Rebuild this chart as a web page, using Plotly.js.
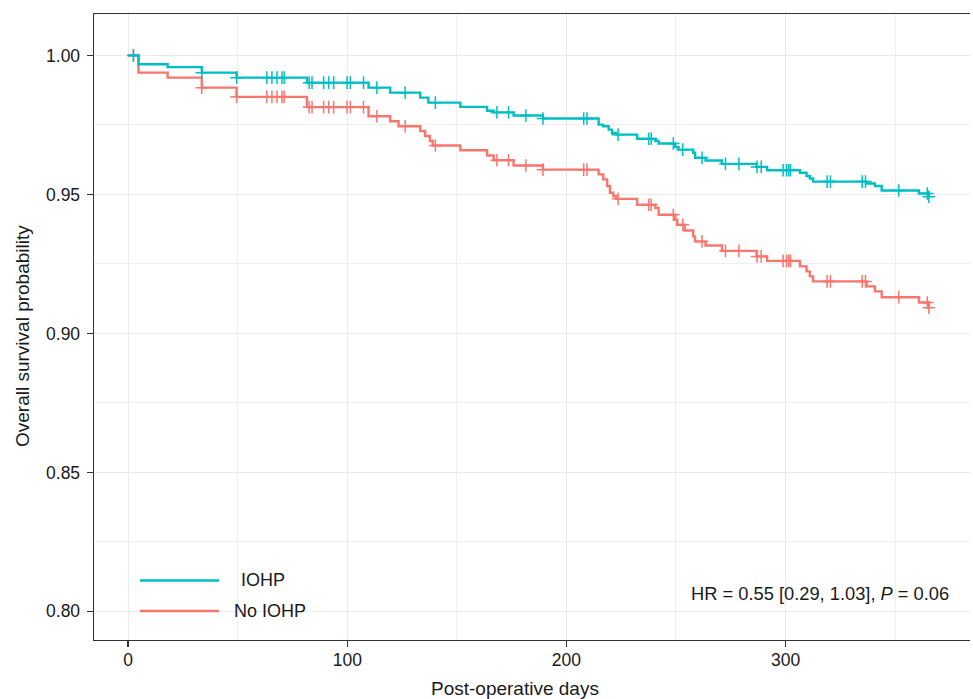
<!DOCTYPE html>
<html>
<head>
<meta charset="utf-8">
<script src="https://cdn.plot.ly/plotly-3.0.1.min.js"></script>
<style>html,body{margin:0;padding:0;background:#fff;}#chart{width:973px;height:699px;}</style>
</head>
<body>
<div id="chart"></div>
<script>
// ---- data ----
const groupNames = ["IOHP", "No IOHP"];
const groupColors = ["#00BFC4", "#F8766D"];

const iohpTime = [0, 4.7, 18, 33.6, 49.5, 81.6, 109.7, 119.6, 133.3, 137, 151.6, 163.8, 166.8, 175.9, 189.3,
  214.7, 216.8, 219.3, 220.8, 222.8, 232.3, 240.6, 242.1, 249.7, 251.2, 257.9, 258.7, 263.5, 271,
  286.8, 291.6, 306.6, 309.6, 311.1, 312.6, 337, 340.8, 343.9, 360.9, 365.4, 366];
const iohpSurv = [1.0, 0.9968, 0.9958, 0.9938, 0.992, 0.9902, 0.9884, 0.9866, 0.9848, 0.983, 0.9815, 0.9801, 0.9795, 0.9784, 0.9773,
  0.9751, 0.9745, 0.9733, 0.9721, 0.9715, 0.970, 0.9692, 0.9683, 0.967, 0.9661, 0.965, 0.9632, 0.9622, 0.961,
  0.9599, 0.9587, 0.9578, 0.9566, 0.9557, 0.9546, 0.9539, 0.953, 0.9514, 0.9503, 0.9492, 0.9492];

const noIohpTime = [0, 4.7, 18, 33.6, 49.5, 81.6, 109.7, 119.6, 123.4, 133.3, 135.5, 137.7, 139, 151.6, 163.8, 166.8, 175.9, 189.3,
  214.7, 216.8, 218.6, 219.9, 221.4, 222.8, 232.3, 240.6, 242.1, 249.7, 250.6, 254, 257.9, 258.7, 263.5, 271,
  286.8, 291.6, 306.6, 309.6, 311.1, 312.6, 337, 340.8, 343.9, 360.9, 365.4, 366];
const noIohpSurv = [1.0, 0.9938, 0.992, 0.9884, 0.9851, 0.9814, 0.9781, 0.9763, 0.9745, 0.9728, 0.971, 0.9692, 0.9676, 0.9659, 0.964, 0.9623, 0.9604, 0.9589,
  0.9572, 0.9554, 0.953, 0.9506, 0.9494, 0.9484, 0.9463, 0.9451, 0.9427, 0.9409, 0.9391, 0.937, 0.9349, 0.9331, 0.9316, 0.9297,
  0.9277, 0.9261, 0.9241, 0.9223, 0.9205, 0.9187, 0.9169, 0.9151, 0.913, 0.9111, 0.9092, 0.9092];

// censoring times (same pattern seen on both curves)
const censorTimes = [2.4, 33.6, 49.5, 63.3, 65.6, 67.9, 70.2, 71.2, 82.6, 83.9, 89.2, 91.5, 93.8, 99.9, 101.4, 107.4,
  113.5, 126.4, 140.2, 168.3, 173.6, 181.5, 189.3, 207.9, 209.4, 223.6, 237.6, 238.7, 248.8, 253.1, 261.9,
  272.6, 278.7, 287, 288.9, 298.9, 300.5, 301.5, 302.3, 319, 320.5, 335, 336.5, 351.7, 364.7, 365.4];

const xTicks = [0, 100, 200, 300];
const yTicks = [0.80, 0.85, 0.90, 0.95, 1.00];
const annotationText = "HR = 0.55 [0.29, 1.03], <i>P</i> = 0.06";
const xTitle = "Post-operative days";
const yTitle = "Overall survival probability";

// ---- helpers ----
function stepValue(times, surv, t) {
  let v = surv[0];
  for (let i = 0; i < times.length; i++) { if (times[i] <= t + 1e-9) v = surv[i]; }
  return v;
}

const FONT = "Liberation Sans, Arial, Helvetica, sans-serif";
const series = [
  {name: groupNames[1], t: noIohpTime, s: noIohpSurv, c: groupColors[1]},
  {name: groupNames[0], t: iohpTime, s: iohpSurv, c: groupColors[0]}
];

const traces = [];
series.forEach(g => {
  traces.push({
    type: "scatter", mode: "lines", name: g.name, x: g.t, y: g.s,
    line: {shape: "hv", color: g.c, width: 2.4}, showlegend: false, hoverinfo: "x+y+name"
  });
  traces.push({
    type: "scatter", mode: "markers", name: g.name + " (censored)",
    x: censorTimes, y: censorTimes.map(t => stepValue(g.t, g.s, t)),
    marker: {symbol: "cross-thin", size: 9, color: g.c, line: {color: g.c, width: 1.5}},
    showlegend: false, hoverinfo: "x+y+name"
  });
});

// plot-area geometry (for placing the legend / titles in paper coords)
const L = 94, R = 3, T = 14, B = 59, W = 973, H = 699;
const PW = W - L - R, PH = H - T - B;
const px = x => (x - L) / PW;
const py = y => (H - B - y) / PH;

const layout = {
  width: W, height: H,
  margin: {l: L, r: R, t: T, b: B, pad: 0},
  paper_bgcolor: "#ffffff", plot_bgcolor: "#ffffff",
  font: {family: FONT, color: "#1a1a1a"},
  showlegend: false,
  xaxis: {
    range: [-15.6, 384.2], tickvals: xTicks, ticktext: xTicks.map(String),
    showgrid: true, gridcolor: "#EBEBEB", gridwidth: 1,
    minor: {tickvals: [50, 150, 250, 350], showgrid: true, gridcolor: "#EFEFEF", gridwidth: 1, ticks: ""},
    zeroline: false, showline: true, linecolor: "#333333", linewidth: 1.4, mirror: true,
    ticks: "outside", ticklen: 6, tickwidth: 1.4, tickcolor: "#333333", ticklabelstandoff: -2,
    tickfont: {size: 17.5, color: "#1a1a1a", family: FONT}
  },
  yaxis: {
    range: [0.7897, 1.0149], tickvals: yTicks, tickformat: ".2f",
    showgrid: true, gridcolor: "#EBEBEB", gridwidth: 1,
    minor: {tickvals: [0.825, 0.875, 0.925, 0.975], showgrid: true, gridcolor: "#EFEFEF", gridwidth: 1, ticks: ""},
    zeroline: false, showline: true, linecolor: "#333333", linewidth: 1.4,
    ticks: "outside", ticklen: 6, tickwidth: 1.4, tickcolor: "#333333", ticklabelstandoff: 3,
    tickfont: {size: 17.5, color: "#1a1a1a", family: FONT}
  },
  shapes: [
    {type: "line", xref: "paper", yref: "paper", x0: px(140), x1: px(219), y0: py(580.5), y1: py(580.5),
     line: {color: groupColors[0], width: 2.6}},
    {type: "line", xref: "paper", yref: "paper", x0: px(140), x1: px(219), y0: py(611), y1: py(611),
     line: {color: groupColors[1], width: 2.6}}
  ],
  annotations: [
    {xref: "paper", yref: "paper", x: px(239), y: py(580), xanchor: "left", yanchor: "middle",
     text: groupNames[0], showarrow: false, font: {size: 18, family: FONT, color: "#1a1a1a"}},
    {xref: "paper", yref: "paper", x: px(232), y: py(610.5), xanchor: "left", yanchor: "middle",
     text: groupNames[1], showarrow: false, font: {size: 18, family: FONT, color: "#1a1a1a"}},
    {xref: "paper", yref: "paper", x: px(819.5), y: py(593), xanchor: "center", yanchor: "middle",
     text: annotationText, showarrow: false, font: {size: 18.3, family: FONT, color: "#1a1a1a"}},
    {xref: "paper", yref: "paper", x: px(515), y: py(688), xanchor: "center", yanchor: "middle",
     text: xTitle, showarrow: false, font: {size: 19, family: FONT, color: "#1a1a1a"}},
    {xref: "paper", yref: "paper", x: px(22.5), y: py(336.5), xanchor: "center", yanchor: "middle",
     text: yTitle, textangle: -90, showarrow: false, font: {size: 19, family: FONT, color: "#1a1a1a"}}
  ]
};

Plotly.newPlot("chart", traces, layout, {displayModeBar: false, staticPlot: true});
</script>
</body>
</html>
